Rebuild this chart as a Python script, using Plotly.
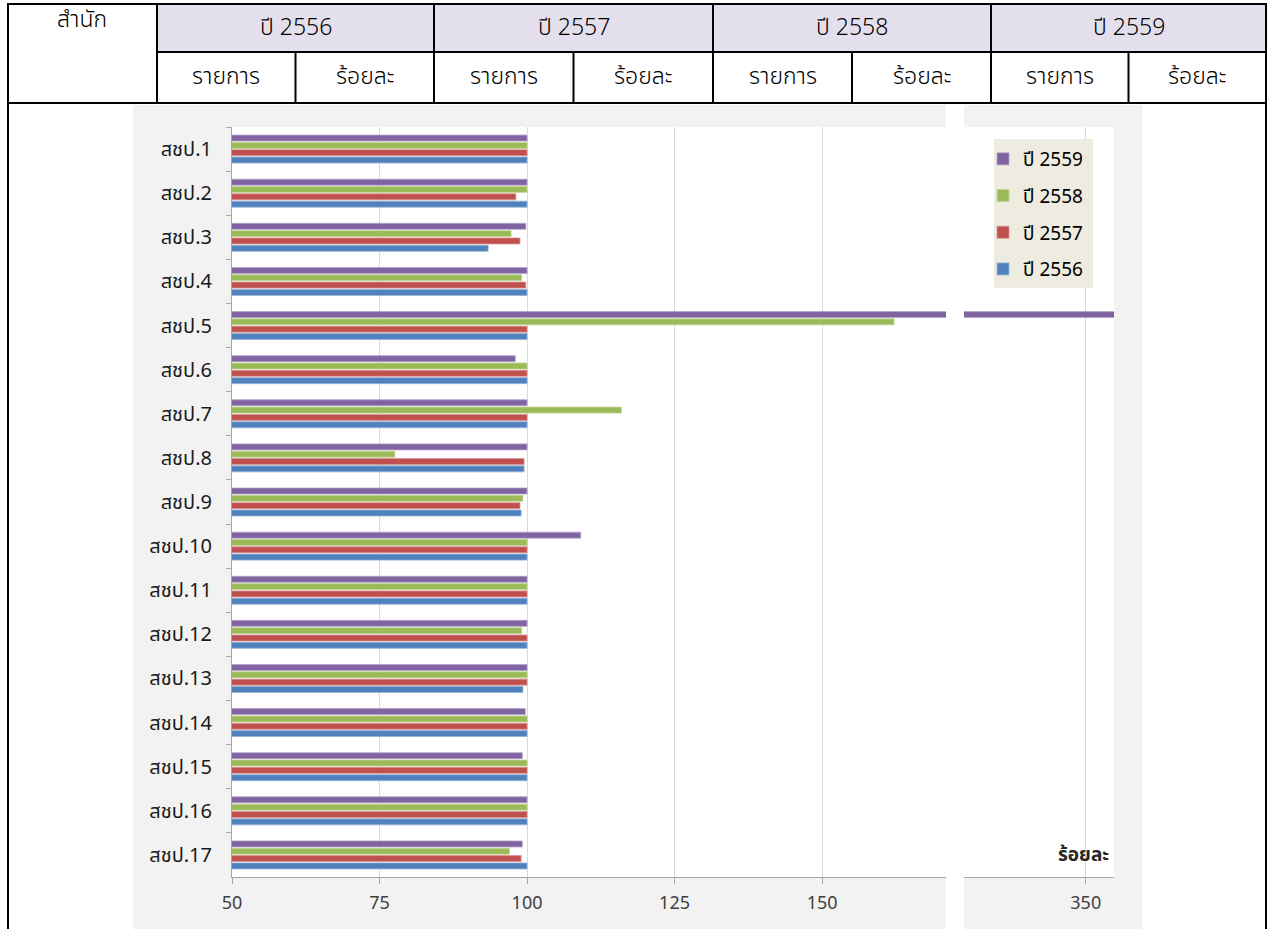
import plotly.graph_objects as go

# Offices (categories) and completion percentages per fiscal year
offices = ["สชป.1", "สชป.2", "สชป.3", "สชป.4", "สชป.5", "สชป.6", "สชป.7", "สชป.8",
           "สชป.9", "สชป.10", "สชป.11", "สชป.12", "สชป.13", "สชป.14", "สชป.15",
           "สชป.16", "สชป.17"]

pct_2559 = [100, 100, 99.8, 100, 355, 98.0, 100, 100, 100, 109.1, 100, 100, 100, 99.7, 99.2, 100, 99.2]
pct_2558 = [100, 100, 97.3, 99.1, 162.2, 100, 116.0, 77.6, 99.3, 100, 100, 99.1, 100, 100, 100, 100, 97.0]
pct_2557 = [100, 98.1, 98.8, 99.8, 100, 100, 100, 99.5, 98.8, 100, 100, 100, 100, 100, 100, 100, 99.0]
pct_2556 = [100, 100, 93.4, 100, 100, 100, 100, 99.5, 99.0, 100, 100, 100, 99.3, 100, 100, 100, 100]

series_names = ["ปี 2559", "ปี 2558", "ปี 2557", "ปี 2556"]
year_headers = ["ปี 2556", "ปี 2557", "ปี 2558", "ปี 2559"]
sub_headers = ["รายการ", "ร้อยละ"]
office_header = "สำนัก"
unit_label = "ร้อยละ"

left_ticks = [50, 75, 100, 125, 150]
right_ticks = [350]

# ---- styling / geometry (pixel positions on the page) ----
W, H = 1267, 929
TH_FONT = "Tahoma, 'Noto Sans Thai', 'Noto Sans Thai UI', Loma, Garuda, 'Noto Sans', sans-serif"
colors = ["#8064A2", "#9BBB59", "#C0504D", "#4F81BD"]
edge_colors = ["#B3A2C7", "#C3D69B", "#D99694", "#95B3D7"]


def px(x):
    return x / W


def py(y):
    return 1 - y / H


fig = go.Figure()
series_vals = [pct_2559, pct_2558, pct_2557, pct_2556]
for name, vals, col, ecol in zip(series_names, series_vals, colors, edge_colors):
    for xa, show in (("x", True), ("x2", False)):
        fig.add_trace(go.Bar(
            y=offices, x=vals, orientation="h", name=name,
            marker=dict(color=col, line=dict(color=ecol, width=0.8)),
            legendgroup=name, showlegend=show, xaxis=xa, yaxis="y",
        ))

shapes = []


def rect(x0, y0, x1, y1, fill, layer="below"):
    shapes.append(dict(type="rect", xref="paper", yref="paper",
                       x0=px(x0), x1=px(x1), y0=py(y1), y1=py(y0),
                       fillcolor=fill, line=dict(width=0), layer=layer))


def seg(x0, y0, x1, y1, w=2):
    shapes.append(dict(type="line", xref="paper", yref="paper",
                       x0=px(x0), x1=px(x1), y0=py(y0), y1=py(y1),
                       line=dict(color="black", width=w), layer="above"))


# chart panels (grey frame + white plot areas)
rect(133, 105, 946, 929, "#F2F2F2")
rect(964, 105, 1142, 929, "#F2F2F2")
rect(232, 127, 946, 877, "white")
rect(964, 127, 1114, 877, "white")
# legend panel
rect(994, 139, 1093, 288, "#EEECE1", layer="above")

# header table
RIGHT = 1266
block_edges = [157, 434, 713, 991, RIGHT]
rect(157, 4, RIGHT, 52, "#E4DFEC")
seg(7, 4, RIGHT + 1, 4)
seg(8, 3, 8, 929)
seg(RIGHT, 3, RIGHT, 929)
seg(157, 52, RIGHT, 52)
seg(7, 103, RIGHT + 1, 103)
for xe in block_edges[:-1]:
    seg(xe, 4, xe, 103)
mids = []
for a, b in zip(block_edges[:-1], block_edges[1:]):
    m = (a + b) / 2
    mids.append((a, m, b))
    seg(m, 52, m, 103)

annotations = []


def text(x, y, s, size=23, bold=False, color="black", weight=300):
    annotations.append(dict(xref="paper", yref="paper", x=px(x), y=py(y),
                            text=s, showarrow=False,
                            xanchor="center", yanchor="middle",
                            font=dict(family=TH_FONT, size=size, color=color,
                                      weight=700 if bold else weight)))


text(82, 20, office_header)
for label, (a, m, b) in zip(year_headers, mids):
    text((a + b) / 2, 28, label)
    text((a + m) / 2, 77, sub_headers[0])
    text((m + b) / 2, 77, sub_headers[1])

text(1083, 855, unit_label, size=19, bold=True, color="#262626")

axis_common = dict(
    showgrid=True, gridcolor="#D9D9D9", gridwidth=1, zeroline=False,
    showline=True, linecolor="#A6A6A6", linewidth=1,
    ticks="outside", ticklen=6, tickcolor="#A6A6A6",
    tickfont=dict(family=TH_FONT, size=18, color="#404040"),
    ticklabelstandoff=3, anchor="y", fixedrange=True, automargin=False,
)

fig.update_layout(
    width=W, height=H,
    margin=dict(l=0, r=0, t=0, b=0),
    paper_bgcolor="white", plot_bgcolor="rgba(0,0,0,0)",
    barmode="group", bargap=0.336, bargroupgap=0.18,
    xaxis=dict(domain=[px(232), px(946)], range=[50, 171], tickvals=left_ticks, **axis_common),
    xaxis2=dict(domain=[px(964), px(1114)], range=[329.3, 354.8], tickvals=right_ticks, **axis_common),
    yaxis=dict(domain=[py(877), py(127)], type="category", categoryorder="array",
               categoryarray=offices, autorange="reversed", anchor="x",
               showgrid=False, zeroline=False, showline=True, linecolor="#A6A6A6",
               ticks="outside", tickson="boundaries", ticklen=5, tickcolor="#A6A6A6",
               ticklabelstandoff=15, automargin=False,
               tickfont=dict(family=TH_FONT, size=20, color="#1A1A1A")),
    legend=dict(x=px(983), y=py(140), xanchor="left", yanchor="top",
                bgcolor="rgba(0,0,0,0)", borderwidth=0, traceorder="grouped",
                tracegroupgap=9,
                font=dict(family=TH_FONT, size=19, color="black")),
    shapes=shapes, annotations=annotations,
    showlegend=True,
)

fig.write_html("out.html")
